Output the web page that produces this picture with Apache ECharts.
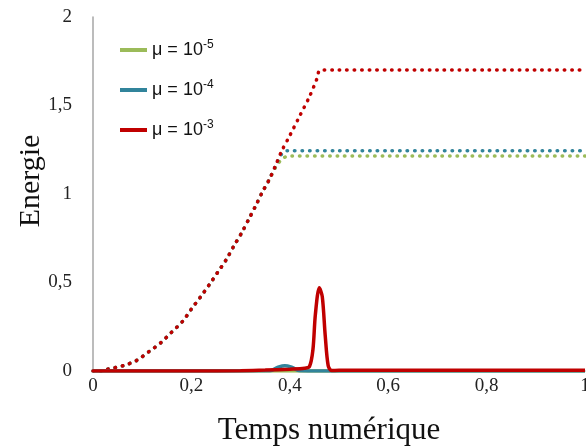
<!DOCTYPE html>
<html><head><meta charset="utf-8">
<script src="https://cdn.jsdelivr.net/npm/echarts@6/dist/echarts.min.js"></script>
<style>html,body{margin:0;padding:0;background:#fff}#c{width:586px;height:447px}</style>
</head><body><div id="c"></div>
<script>
// Energy (dotted) curves
const redEnergyT = [0, 0.02, 0.03, 0.061, 0.089, 0.114, 0.138, 0.16, 0.182, 0.20, 0.219, 0.237, 0.254, 0.271, 0.287, 0.302, 0.317, 0.330, 0.344, 0.358, 0.371, 0.383, 0.40, 0.42, 0.44, 0.455, 0.462, 0.50, 0.60, 0.70, 0.80, 0.90, 1.0];
const redEnergyE = [0, 0, 0.01, 0.03, 0.06, 0.11, 0.16, 0.22, 0.28, 0.35, 0.42, 0.49, 0.56, 0.63, 0.71, 0.78, 0.86, 0.93, 1.01, 1.08, 1.16, 1.24, 1.33, 1.44, 1.55, 1.65, 1.70, 1.70, 1.70, 1.70, 1.70, 1.70, 1.70];
const greenEnergyT = [0, 0.02, 0.03, 0.061, 0.089, 0.114, 0.138, 0.16, 0.182, 0.20, 0.219, 0.237, 0.254, 0.271, 0.287, 0.302, 0.317, 0.330, 0.344, 0.358, 0.371, 0.385, 0.40, 0.50, 0.60, 0.70, 0.80, 0.90, 1.0];
const greenEnergyE = [0, 0, 0.01, 0.03, 0.06, 0.11, 0.16, 0.22, 0.28, 0.35, 0.42, 0.49, 0.56, 0.63, 0.71, 0.78, 0.86, 0.93, 1.01, 1.08, 1.15, 1.20, 1.215, 1.215, 1.215, 1.215, 1.215, 1.215, 1.215];
const blueEnergyT = [0, 0.02, 0.03, 0.061, 0.089, 0.114, 0.138, 0.16, 0.182, 0.20, 0.219, 0.237, 0.254, 0.271, 0.287, 0.302, 0.317, 0.330, 0.344, 0.358, 0.371, 0.382, 0.393, 0.50, 0.60, 0.70, 0.80, 0.90, 1.0];
const blueEnergyE = [0, 0, 0.01, 0.03, 0.06, 0.11, 0.16, 0.22, 0.28, 0.35, 0.42, 0.49, 0.56, 0.63, 0.71, 0.78, 0.86, 0.93, 1.01, 1.08, 1.16, 1.22, 1.245, 1.245, 1.245, 1.245, 1.245, 1.245, 1.245];
// Solid curves (near zero)
const greenSolidT = [0, 0.2, 0.4, 0.6, 0.8, 1.0];
const greenSolidE = [0, 0, 0, 0, 0, 0];
const blueSolidT = [0, 0.2, 0.36, 0.375, 0.39, 0.405, 0.42, 0.5, 0.7, 1.0];
const blueSolidE = [0, 0, 0.002, 0.02, 0.03, 0.02, 0.002, 0, 0, 0];
const redSolidT = [0, 0.2, 0.3, 0.35, 0.40, 0.43, 0.44, 0.447, 0.452, 0.46, 0.466, 0.472, 0.478, 0.485, 0.5, 0.7, 1.0];
const redSolidE = [0, 0, 0.002, 0.005, 0.01, 0.015, 0.025, 0.12, 0.32, 0.47, 0.42, 0.2, 0.03, 0.003, 0.004, 0.004, 0.004];

const legendNames = ['μ = 10{s|-5}', 'μ = 10{s|-4}', 'μ = 10{s|-3}'];
const xTicks = ['0', '0,2', '0,4', '0,6', '0,8', '1'];
const yTicks = ['0', '0,5', '1', '1,5', '2'];

const GREEN = '#9BBB59', BLUE = '#31849B', RED = '#C00000';
const zip = (a, b) => a.map((v, i) => [v, b[i]]);
const dotted = {type: [0.5, 7], width: 3.5, cap: 'round'};

const chart = echarts.init(document.getElementById('c'));
chart.setOption({
  animation: false,
  grid: {left: 93, top: 17, right: 1, bottom: 76, outerBoundsMode: 'none', containLabel: false},
  legend: {
    orient: 'vertical', left: 115, top: 34, itemGap: 20,
    itemWidth: 27, itemHeight: 4, icon: 'rect',
    data: ['g', 'b', 'r'],
    formatter: n => ({g: legendNames[0], b: legendNames[1], r: legendNames[2]})[n],
    textStyle: {fontFamily: 'Liberation Sans', fontSize: 18, color: '#111', padding: [0, 0, 0, 0],
      rich: {s: {fontFamily: 'Liberation Sans', fontSize: 12, color: '#111', padding: [0, 0, 10, 0]}}}
  },
  xAxis: {
    type: 'value', min: 0, max: 1, interval: 0.2,
    axisLine: {lineStyle: {color: '#A6A6A6', width: 1.5}},
    axisTick: {show: false}, splitLine: {show: false},
    axisLabel: {formatter: (v) => xTicks[Math.round(v / 0.2)], fontFamily: 'Liberation Serif', fontSize: 19, color: '#222', margin: 6},
    name: 'Temps numérique', nameLocation: 'middle', nameGap: 44, nameMoveOverlap: false,
    nameTextStyle: {fontFamily: 'Liberation Serif', fontSize: 31, color: '#111', padding: [0, 20, 0, 0]}
  },
  yAxis: {
    type: 'value', min: 0, max: 2, interval: 0.5,
    axisLine: {show: true, lineStyle: {color: '#A6A6A6', width: 1.5}},
    axisTick: {show: false}, splitLine: {show: false},
    axisLabel: {formatter: (v) => yTicks[Math.round(v / 0.5)], fontFamily: 'Liberation Serif', fontSize: 19, color: '#222', margin: 21},
    name: 'Energie', nameLocation: 'middle', nameGap: 47, nameMoveOverlap: false,
    nameTextStyle: {fontFamily: 'Liberation Serif', fontSize: 30, color: '#111', padding: [0, 0, 0, 26]}
  },
  series: [
    {name: 'g', type: 'line', data: zip(greenSolidT, greenSolidE), showSymbol: false, color: GREEN, lineStyle: {width: 3.5}, z: 3},
    {name: 'b', type: 'line', data: zip(blueSolidT, blueSolidE), showSymbol: false, smooth: 0.4, color: BLUE, lineStyle: {width: 3.5}, z: 3},
    {name: 'r', type: 'line', data: zip(redSolidT, redSolidE), showSymbol: false, smooth: 0.3, color: RED, lineStyle: {width: 3.5}, z: 4},
    {name: 'gE', type: 'line', data: zip(greenEnergyT, greenEnergyE), showSymbol: false, smooth: 0.3, color: GREEN, lineStyle: dotted, z: 2},
    {name: 'bE', type: 'line', data: zip(blueEnergyT, blueEnergyE), showSymbol: false, smooth: 0.3, color: BLUE, lineStyle: dotted, z: 2},
    {name: 'rE', type: 'line', data: zip(redEnergyT, redEnergyE), showSymbol: false, smooth: 0.3, color: RED, lineStyle: dotted, z: 2}
  ]
});
</script></body></html>
